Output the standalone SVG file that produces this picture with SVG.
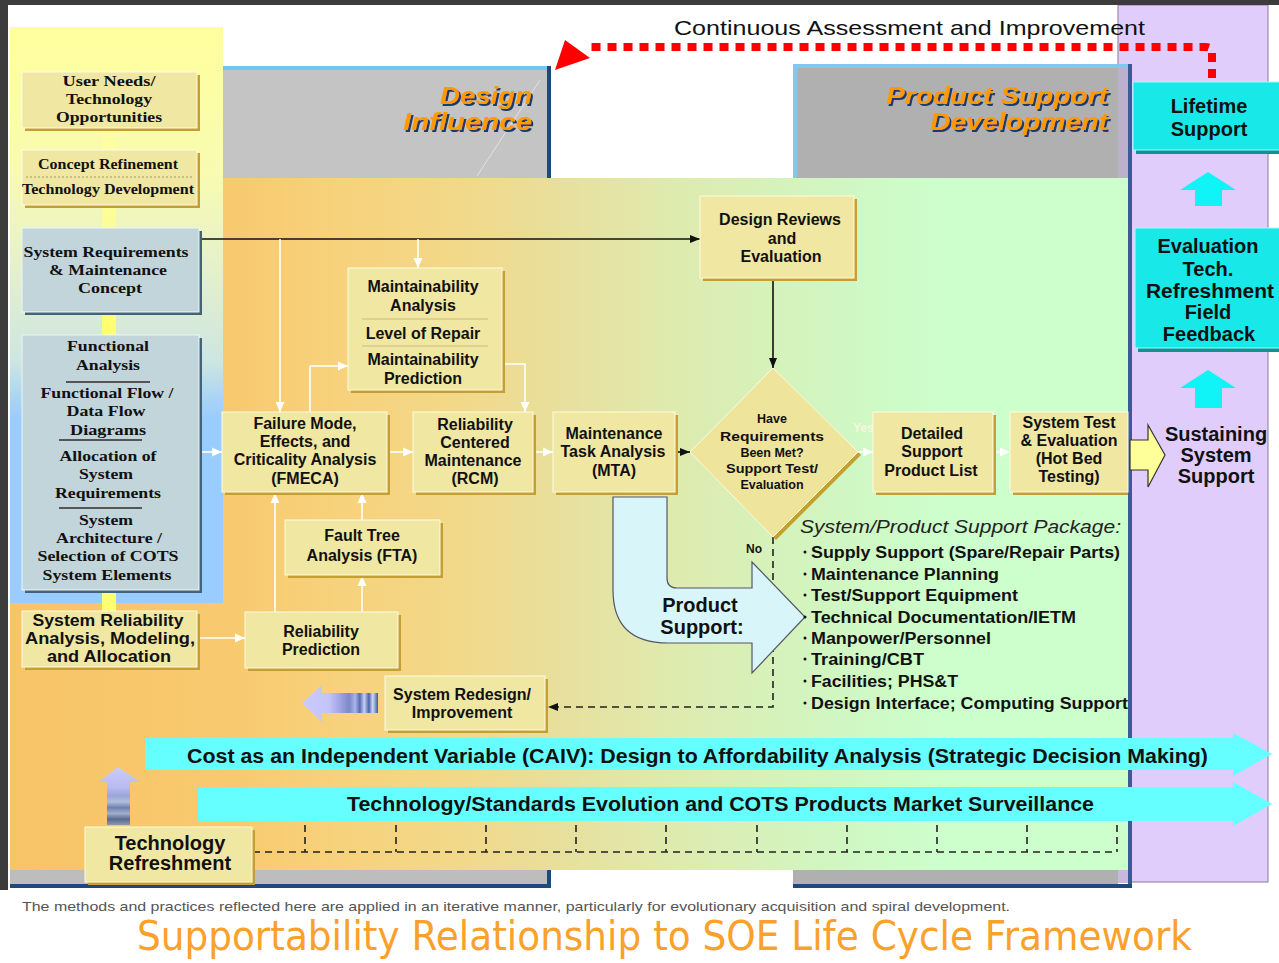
<svg xmlns="http://www.w3.org/2000/svg" width="1279" height="963" viewBox="0 0 1279 963">
<defs>
<linearGradient id="mainG" gradientUnits="userSpaceOnUse" x1="10" y1="0" x2="1128" y2="0">
<stop offset="0" stop-color="#f8c468"/>
<stop offset="0.19" stop-color="#f8c96e"/>
<stop offset="0.3" stop-color="#f7d27c"/>
<stop offset="0.41" stop-color="#f1d98a"/>
<stop offset="0.49" stop-color="#e8df9c"/>
<stop offset="0.58" stop-color="#e0e9ac"/>
<stop offset="0.66" stop-color="#d8f0b8"/>
<stop offset="0.76" stop-color="#cff8c4"/>
<stop offset="0.84" stop-color="#ccffcc"/>
<stop offset="1" stop-color="#ccffcc"/>
</linearGradient>
<linearGradient id="leftG" gradientUnits="userSpaceOnUse" x1="0" y1="27" x2="0" y2="603">
<stop offset="0" stop-color="#ffff9c"/>
<stop offset="0.25" stop-color="#f8fbb0"/>
<stop offset="0.4" stop-color="#e8f2c8"/>
<stop offset="0.58" stop-color="#cde6e2"/>
<stop offset="0.64" stop-color="#acd6f2"/>
<stop offset="0.68" stop-color="#99ccff"/>
<stop offset="1" stop-color="#99ccff"/>
</linearGradient>
<linearGradient id="leftArrowG" x1="0" y1="0" x2="1" y2="0">
<stop offset="0" stop-color="#cbcbff"/>
<stop offset="0.35" stop-color="#c4c4fa"/>
<stop offset="0.5" stop-color="#a0a4e4"/>
<stop offset="0.62" stop-color="#7c88c8"/>
<stop offset="0.7" stop-color="#aab4e8"/>
<stop offset="0.76" stop-color="#5a6cb0"/>
<stop offset="0.82" stop-color="#c8d0f4"/>
<stop offset="0.88" stop-color="#4a64a8"/>
<stop offset="0.93" stop-color="#d0d8f8"/>
<stop offset="1" stop-color="#3a5a98"/>
</linearGradient>
<linearGradient id="upArrowG" x1="0" y1="0" x2="0" y2="1">
<stop offset="0" stop-color="#cbcbff"/>
<stop offset="0.35" stop-color="#b8bcf0"/>
<stop offset="0.5" stop-color="#9aa6d8"/>
<stop offset="0.6" stop-color="#b0c0d8"/>
<stop offset="0.7" stop-color="#7080b0"/>
<stop offset="0.8" stop-color="#a0b0c8"/>
<stop offset="0.9" stop-color="#5a6a90"/>
<stop offset="1" stop-color="#8a9aa8"/>
</linearGradient>
<filter id="ds" x="-10%" y="-20%" width="130%" height="150%">
<feDropShadow dx="2" dy="2" stdDeviation="0.3" flood-color="#1a3a6a" flood-opacity="1"/>
</filter>
<marker id="wa" markerUnits="userSpaceOnUse" markerWidth="10" markerHeight="10" viewBox="0 0 10 10" refX="10" refY="5" orient="auto">
<path d="M0,0.5 L10,5 L0,9.5 z" fill="#ffffff"/>
</marker>
<marker id="ka" markerUnits="userSpaceOnUse" markerWidth="10" markerHeight="10" viewBox="0 0 10 10" refX="10" refY="5" orient="auto">
<path d="M0,1 L10,5 L0,9 z" fill="#111111"/>
</marker>
</defs>
<style>
.bx{fill:#efe7a2;stroke:#fffbe0;stroke-width:1}
.sh{fill:#c4a034}
.bb{fill:#c2d5da;stroke:#eef6f6;stroke-width:1}
.bs{fill:#44627a}
.cy{fill:#18e8e8;stroke:#9ffcfc;stroke-width:1}
.cs{fill:#0c9494}
.t{font-family:"Liberation Sans",Arial,sans-serif;font-weight:bold;font-size:16px;fill:#111;text-anchor:middle}
.tb{font-family:"Liberation Sans",Arial,sans-serif;font-weight:bold;font-size:20px;fill:#111;text-anchor:middle}
.dt{font-family:"Liberation Sans",Arial,sans-serif;font-weight:bold;font-size:12.5px;fill:#111;text-anchor:middle}
.s{font-family:"Liberation Serif","Times New Roman",serif;font-weight:bold;font-size:15.5px;fill:#111;text-anchor:middle}
.li{font-family:"Liberation Sans",Arial,sans-serif;font-weight:bold;font-size:16px;fill:#111}
.w{stroke:#ffffff;stroke-width:1.6;fill:none}
.k{stroke:#111;stroke-width:1.6;fill:none}
.d{stroke:#222;stroke-width:1.6;stroke-dasharray:7 5;fill:none}
.hd{font-family:"Liberation Sans",Arial,sans-serif;font-weight:bold;font-style:italic;font-size:24.5px;text-anchor:end;fill:#ff9900;filter:url(#ds)}
.div{stroke:#c9be78;stroke-width:1}
.sdiv{stroke:#555;stroke-width:2}
</style>

<g id="background">
<rect x="0" y="0" width="1279" height="963" fill="#ffffff"/>
<rect x="1118" y="5" width="150" height="877" fill="#e1cdfb" stroke="#8a7a9a" stroke-width="1"/>
<rect x="10" y="178" width="1118" height="692" fill="url(#mainG)"/>
<rect x="10" y="27" width="213" height="576" fill="url(#leftG)"/>
<rect x="223" y="67" width="324" height="111" fill="#c4c4c4"/>
<rect x="223" y="66" width="328" height="4" fill="#6cc8f0"/>
<rect x="547" y="66" width="4" height="112" fill="#1d4a78"/>
<line x1="477" y1="176" x2="540" y2="80" stroke="#ffffff" stroke-opacity="0.5" stroke-width="1"/>
<rect x="793" y="64" width="325" height="114" fill="#b0b0b0"/>
<rect x="1118" y="64" width="10" height="114" fill="#bcb0cc"/>
<rect x="793" y="64" width="335" height="4" fill="#80c8f0"/>
<rect x="793" y="64" width="4" height="114" fill="#80c8f0"/>
<rect x="1128" y="64" width="4" height="824" fill="#3a5c96"/>
<rect x="10" y="870" width="537" height="14" fill="#bdbdbd"/>
<rect x="10" y="884" width="541" height="4" fill="#1d4a78"/>
<rect x="547" y="870" width="4" height="18" fill="#1d4a78"/>
<rect x="793" y="870" width="325" height="14" fill="#b0b0b0"/>
<rect x="1118" y="870" width="10" height="12" fill="#c8b8dc"/>
<rect x="793" y="884" width="339" height="4" fill="#1d4a78"/>
<rect x="0" y="0" width="1279" height="5" fill="#3c3c3c"/>
<rect x="0" y="0" width="8" height="890" fill="#3c3c3c"/>
<rect x="102" y="130" width="14" height="20" fill="#ffffa0" opacity="0.7"/>
<rect x="102" y="206" width="14" height="22" fill="#ffff90" opacity="0.8"/>
<rect x="102" y="313" width="14" height="22" fill="#ffff70"/>
<rect x="102" y="591" width="14" height="20" fill="#ffff70"/>
</g>

<g id="headings">
<text x="532" y="104" class="hd" textLength="92" lengthAdjust="spacingAndGlyphs">Design</text>
<text x="532" y="130" class="hd" textLength="129" lengthAdjust="spacingAndGlyphs">Influence</text>
<text x="1108" y="104" class="hd" textLength="222" lengthAdjust="spacingAndGlyphs">Product Support</text>
<text x="1108" y="130" class="hd" textLength="178" lengthAdjust="spacingAndGlyphs">Development</text>
<text x="674" y="35" font-family="Liberation Sans, Arial, sans-serif" font-size="21" fill="#111" textLength="471" lengthAdjust="spacingAndGlyphs">Continuous Assessment and Improvement</text>
</g>

<g id="connectors">
<path d="M1212,78 V52 Q1212,47 1205,47 H590" stroke="#ff0000" stroke-width="8" stroke-dasharray="9 7" fill="none"/>
<polygon points="555,70 565,40 590,58" fill="#ff0000"/>
<path class="k" d="M200,239 H700" marker-end="url(#ka)"/>
<path class="w" d="M280,239 V412" marker-end="url(#wa)"/>
<path class="w" d="M418,239 V268" marker-end="url(#wa)"/>
<path class="w" d="M310,412 V366 H348" marker-end="url(#wa)"/>
<path class="w" d="M502,364 H525 V412" marker-end="url(#wa)"/>
<path class="w" d="M200,452 H222" marker-end="url(#wa)"/>
<path class="w" d="M388,452 H413" marker-end="url(#wa)"/>
<path class="w" d="M533,452 H553" marker-end="url(#wa)"/>
<path class="k" d="M675,452 H690" marker-end="url(#ka)"/>
<path class="w" d="M858,452 H873" marker-end="url(#wa)"/>
<path class="w" d="M993,452 H1010" marker-end="url(#wa)"/>
<path class="k" d="M773,281 V368" marker-end="url(#ka)"/>
<path class="d" d="M773,537 V707 H548" marker-end="url(#ka)"/>
<path class="w" d="M197,638 H245" marker-end="url(#wa)"/>
<path class="w" d="M275,612 V493" marker-end="url(#wa)"/>
<path class="w" d="M362,612 V576" marker-end="url(#wa)"/>
<path class="w" d="M362,520 V493" marker-end="url(#wa)"/>
<path class="d" d="M253,852 H1117"/>
<path class="d" d="M305,825 V852 M396,825 V852 M486,825 V852 M576,825 V852 M666,825 V852 M757,825 V852 M847,825 V852 M937,825 V852 M1027,825 V852 M1117,825 V852"/>
<text x="853" y="432" font-family="Liberation Sans, Arial, sans-serif" font-weight="bold" font-size="12" fill="#f6f6dc">Yes</text>
<text x="746" y="553" font-family="Liberation Sans, Arial, sans-serif" font-weight="bold" font-size="12" fill="#111">No</text>
<polygon points="1130,440 1148,440 1148,425 1165,455 1148,487 1148,470 1130,470" fill="#ffff99" stroke="#333" stroke-width="1.2"/>
<polygon points="1208,172 1236,190 1222,190 1222,206 1195,206 1195,190 1180,190" fill="#10f4f8"/>
<polygon points="1208,370 1236,388 1222,388 1222,408 1195,408 1195,388 1180,388" fill="#10f4f8"/>
<polygon points="302,703 322,685 322,693 378,693 378,713 322,713 322,722" fill="url(#leftArrowG)"/>
<polygon points="118,767 140,782 130,782 130,825 107,825 107,782 98,782" fill="url(#upArrowG)"/>
</g>

<g id="node-product-support">
<path d="M613,497 H667 V578 Q667,588 677,588 H752 V562 L805,617 L752,673 V643 H668 Q613,643 613,590 Z" fill="#d8f6fa" stroke="#556" stroke-width="1.2"/>
<text x="700" y="612" class="tb" font-size="20" fill="#222">Product</text>
<text x="702" y="634" class="tb" font-size="20" fill="#222">Support:</text>
</g>

<g id="node-caiv">
<polygon points="145,738 1233,738 1233,733 1272,754 1233,776 1233,770 145,770" fill="#66ffff"/>
<text x="187" y="763" font-family="Liberation Sans, Arial, sans-serif" font-weight="bold" font-size="20" fill="#111" textLength="1021" lengthAdjust="spacingAndGlyphs">Cost as an Independent Variable (CAIV): Design to Affordability Analysis (Strategic Decision Making)</text>
</g>
<g id="node-tech-standards">
<polygon points="198,787 1233,787 1233,782 1272,804 1233,826 1233,821 198,821" fill="#66ffff"/>
<text x="347" y="811" font-family="Liberation Sans, Arial, sans-serif" font-weight="bold" font-size="20" fill="#111" textLength="747" lengthAdjust="spacingAndGlyphs">Technology/Standards Evolution and COTS Products Market Surveillance</text>
</g>

<g id="node-user-needs">
<rect x="25" y="75" width="175" height="56" class="sh"/>
<rect x="22" y="72" width="175" height="56" class="bx"/>
<text x="109" y="86" class="s" textLength="93" lengthAdjust="spacingAndGlyphs">User Needs/</text>
<text x="109" y="104" class="s" textLength="86" lengthAdjust="spacingAndGlyphs">Technology</text>
<text x="109" y="122" class="s" textLength="106" lengthAdjust="spacingAndGlyphs">Opportunities</text>
</g>
<g id="node-concept">
<rect x="25" y="153" width="175" height="55" class="sh"/>
<rect x="22" y="150" width="175" height="55" class="bx"/>
<line x1="26" y1="177" x2="193" y2="177" stroke="#a09860" stroke-width="1" stroke-dasharray="2 2"/>
<text x="108" y="169" class="s" font-size="14.5" textLength="140" lengthAdjust="spacingAndGlyphs">Concept Refinement</text>
<text x="108" y="194" class="s" font-size="14.5" textLength="172" lengthAdjust="spacingAndGlyphs">Technology Development</text>
</g>
<g id="node-system-requirements">
<rect x="25" y="231" width="177" height="84" class="bs"/>
<rect x="22" y="228" width="177" height="84" class="bb"/>
<text x="106" y="257" class="s" textLength="165" lengthAdjust="spacingAndGlyphs">System Requirements</text>
<text x="108" y="275" class="s" textLength="118" lengthAdjust="spacingAndGlyphs">&amp; Maintenance</text>
<text x="110" y="293" class="s" textLength="64" lengthAdjust="spacingAndGlyphs">Concept</text>
</g>
<g id="node-functional-analysis">
<rect x="25" y="338" width="177" height="255" class="bs"/>
<rect x="22" y="335" width="177" height="255" class="bb"/>
<line x1="66" y1="382" x2="150" y2="382" class="sdiv"/>
<line x1="59" y1="440" x2="142" y2="440" class="sdiv"/>
<line x1="59" y1="508" x2="142" y2="508" class="sdiv"/>
<text x="108" y="351" class="s" textLength="82" lengthAdjust="spacingAndGlyphs">Functional</text>
<text x="108" y="370" class="s" textLength="64" lengthAdjust="spacingAndGlyphs">Analysis</text>
<text x="107" y="398" class="s" textLength="133" lengthAdjust="spacingAndGlyphs">Functional Flow /</text>
<text x="106" y="416" class="s" textLength="79" lengthAdjust="spacingAndGlyphs">Data Flow</text>
<text x="108" y="435" class="s" textLength="76" lengthAdjust="spacingAndGlyphs">Diagrams</text>
<text x="108" y="461" class="s" textLength="97" lengthAdjust="spacingAndGlyphs">Allocation of</text>
<text x="106" y="479" class="s" textLength="54" lengthAdjust="spacingAndGlyphs">System</text>
<text x="108" y="498" class="s" textLength="106" lengthAdjust="spacingAndGlyphs">Requirements</text>
<text x="106" y="525" class="s" textLength="54" lengthAdjust="spacingAndGlyphs">System</text>
<text x="109" y="543" class="s" textLength="106" lengthAdjust="spacingAndGlyphs">Architecture /</text>
<text x="108" y="561" class="s" textLength="141" lengthAdjust="spacingAndGlyphs">Selection of COTS</text>
<text x="107" y="580" class="s" textLength="129" lengthAdjust="spacingAndGlyphs">System Elements</text>
</g>
<g id="node-system-reliability">
<rect x="25" y="614" width="175" height="56" class="sh"/>
<rect x="22" y="611" width="175" height="56" class="bx"/>
<text x="108" y="626" class="t" textLength="151" lengthAdjust="spacingAndGlyphs">System Reliability</text>
<text x="110" y="644" class="t" textLength="170" lengthAdjust="spacingAndGlyphs">Analysis, Modeling,</text>
<text x="109" y="662" class="t" textLength="124" lengthAdjust="spacingAndGlyphs">and Allocation</text>
</g>

<g id="node-maintainability">
<rect x="351" y="271" width="154" height="122" class="sh"/>
<rect x="348" y="268" width="154" height="122" class="bx"/>
<line x1="362" y1="319" x2="488" y2="319" class="div"/>
<line x1="362" y1="346" x2="488" y2="346" class="div"/>
<text x="423" y="292" class="t">Maintainability</text>
<text x="423" y="311" class="t">Analysis</text>
<text x="423" y="339" class="t">Level of Repair</text>
<text x="423" y="365" class="t">Maintainability</text>
<text x="423" y="384" class="t">Prediction</text>
</g>
<g id="node-design-reviews">
<rect x="703" y="199" width="154" height="82" class="sh"/>
<rect x="700" y="196" width="154" height="82" class="bx"/>
<text x="780" y="225" class="t">Design Reviews</text>
<text x="782" y="244" class="t">and</text>
<text x="781" y="262" class="t">Evaluation</text>
</g>
<g id="node-fmeca">
<rect x="225" y="415" width="165" height="80" class="sh"/>
<rect x="222" y="412" width="165" height="80" class="bx"/>
<text x="305" y="429" class="t">Failure Mode,</text>
<text x="305" y="447" class="t">Effects, and</text>
<text x="305" y="465" class="t">Criticality Analysis</text>
<text x="305" y="484" class="t">(FMECA)</text>
</g>
<g id="node-rcm">
<rect x="416" y="415" width="120" height="80" class="sh"/>
<rect x="413" y="412" width="120" height="80" class="bx"/>
<text x="475" y="430" class="t">Reliability</text>
<text x="475" y="448" class="t">Centered</text>
<text x="473" y="466" class="t">Maintenance</text>
<text x="475" y="484" class="t">(RCM)</text>
</g>
<g id="node-mta">
<rect x="556" y="415" width="122" height="80" class="sh"/>
<rect x="553" y="412" width="122" height="80" class="bx"/>
<text x="614" y="439" class="t">Maintenance</text>
<text x="613" y="457" class="t">Task Analysis</text>
<text x="614" y="476" class="t">(MTA)</text>
</g>
<g id="node-decision">
<polygon points="776,371 861,455 776,540 693,455" fill="#c4a034"/>
<polygon points="773,368 858,452 773,537 690,452" fill="#efe49c" stroke="#fffbe0" stroke-width="1"/>
<text x="772" y="423" class="dt">Have</text>
<text x="772" y="441" class="dt" textLength="104" lengthAdjust="spacingAndGlyphs">Requirements</text>
<text x="772" y="457" class="dt">Been Met?</text>
<text x="772" y="473" class="dt" textLength="92" lengthAdjust="spacingAndGlyphs">Support Test/</text>
<text x="772" y="489" class="dt">Evaluation</text>
</g>
<g id="node-detailed-support">
<rect x="876" y="415" width="120" height="80" class="sh"/>
<rect x="873" y="412" width="120" height="80" class="bx"/>
<text x="932" y="439" class="t">Detailed</text>
<text x="932" y="457" class="t">Support</text>
<text x="931" y="476" class="t">Product List</text>
</g>
<g id="node-system-test">
<rect x="1013" y="415" width="115" height="80" class="sh"/>
<rect x="1010" y="412" width="118" height="80" class="bx"/>
<text x="1069" y="428" class="t">System Test</text>
<text x="1069" y="446" class="t">&amp; Evaluation</text>
<text x="1069" y="464" class="t">(Hot Bed</text>
<text x="1069" y="482" class="t">Testing)</text>
</g>
<g id="node-fta">
<rect x="288" y="523" width="155" height="55" class="sh"/>
<rect x="285" y="520" width="155" height="55" class="bx"/>
<text x="362" y="541" class="t">Fault Tree</text>
<text x="362" y="561" class="t">Analysis (FTA)</text>
</g>
<g id="node-reliability-prediction">
<rect x="248" y="615" width="153" height="56" class="sh"/>
<rect x="245" y="612" width="153" height="56" class="bx"/>
<text x="321" y="637" class="t">Reliability</text>
<text x="321" y="655" class="t">Prediction</text>
</g>
<g id="node-system-redesign">
<rect x="388" y="679" width="160" height="54" class="sh"/>
<rect x="385" y="676" width="160" height="54" class="bx"/>
<text x="462" y="700" class="t">System Redesign/</text>
<text x="462" y="718" class="t">Improvement</text>
</g>
<g id="node-technology-refreshment">
<rect x="88" y="830" width="167" height="55" class="sh"/>
<rect x="85" y="827" width="167" height="55" class="bx"/>
<text x="170" y="850" class="tb" font-size="21">Technology</text>
<text x="170" y="870" class="tb" font-size="21">Refreshment</text>
</g>

<g id="node-package">
<text x="800" y="533" font-family="Liberation Sans, Arial, sans-serif" font-style="italic" font-size="19" fill="#222" textLength="321" lengthAdjust="spacingAndGlyphs">System/Product Support Package:</text>
<g fill="#111">
<circle cx="805" cy="552" r="1.5"/><circle cx="805" cy="574" r="1.5"/><circle cx="805" cy="595" r="1.5"/><circle cx="805" cy="617" r="1.5"/>
<circle cx="805" cy="638" r="1.5"/><circle cx="805" cy="659" r="1.5"/><circle cx="805" cy="681" r="1.5"/><circle cx="805" cy="703" r="1.5"/>
</g>
<text x="811" y="558" class="li" textLength="309" lengthAdjust="spacingAndGlyphs">Supply Support (Spare/Repair Parts)</text>
<text x="811" y="580" class="li" textLength="188" lengthAdjust="spacingAndGlyphs">Maintenance Planning</text>
<text x="811" y="601" class="li" textLength="207" lengthAdjust="spacingAndGlyphs">Test/Support Equipment</text>
<text x="811" y="623" class="li" textLength="265" lengthAdjust="spacingAndGlyphs">Technical Documentation/IETM</text>
<text x="811" y="644" class="li" textLength="180" lengthAdjust="spacingAndGlyphs">Manpower/Personnel</text>
<text x="811" y="665" class="li" textLength="113" lengthAdjust="spacingAndGlyphs">Training/CBT</text>
<text x="811" y="687" class="li" textLength="147" lengthAdjust="spacingAndGlyphs">Facilities; PHS&amp;T</text>
<text x="811" y="709" class="li" textLength="317" lengthAdjust="spacingAndGlyphs">Design Interface; Computing Support</text>
</g>

<g id="node-lifetime-support">
<rect x="1136" y="85" width="150" height="69" class="cs"/>
<rect x="1133" y="82" width="150" height="68" class="cy"/>
<text x="1209" y="113" class="tb">Lifetime</text>
<text x="1209" y="136" class="tb">Support</text>
</g>
<g id="node-evaluation">
<rect x="1138" y="231" width="150" height="121" class="cs"/>
<rect x="1135" y="228" width="150" height="120" class="cy"/>
<text x="1208" y="253" class="tb">Evaluation</text>
<text x="1208" y="276" class="tb">Tech.</text>
<text x="1210" y="298" class="tb" textLength="128" lengthAdjust="spacingAndGlyphs">Refreshment</text>
<text x="1208" y="319" class="tb">Field</text>
<text x="1209" y="341" class="tb">Feedback</text>
</g>
<g id="node-sustaining">
<text x="1216" y="441" class="tb" font-size="21">Sustaining</text>
<text x="1216" y="462" class="tb" font-size="21">System</text>
<text x="1216" y="483" class="tb" font-size="21">Support</text>
</g>

<g id="footer">
<text x="22" y="911" font-family="Liberation Sans, Arial, sans-serif" font-size="13.5" fill="#555" textLength="988" lengthAdjust="spacingAndGlyphs">The methods and practices reflected here are applied in an iterative manner, particularly for evolutionary acquisition and spiral development.</text>
<text x="137" y="950" font-family="DejaVu Sans, Verdana, sans-serif" font-size="40" fill="#f9a12a" textLength="1055" lengthAdjust="spacingAndGlyphs">Supportability Relationship to SOE Life Cycle Framework</text>
</g>
</svg>
